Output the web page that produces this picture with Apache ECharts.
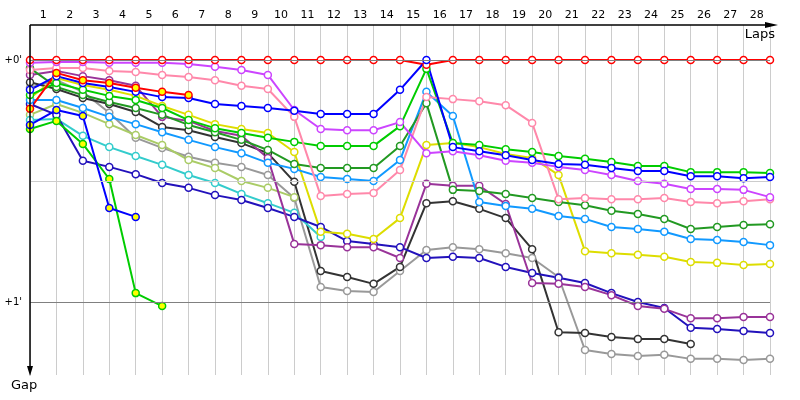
<!DOCTYPE html>
<html>
<head>
<meta charset="utf-8">
<script src="https://cdn.jsdelivr.net/npm/echarts@6/dist/echarts.min.js"></script>
<style>html,body{margin:0;padding:0;background:#fff}#c{width:800px;height:400px}</style>
</head>
<body>
<div id="c"></div>
<script>
// Laps (x positions of points) and tick labels
const laps = [0,1,2,3,4,5,6,7,8,9,10,11,12,13,14,15,16,17,18,19,20,21,22,23,24,25,26,27,28];
const tickLabels = ['1','2','3','4','5','6','7','8','9','10','11','12','13','14','15','16','17','18','19','20','21','22','23','24','25','26','27','28'];
// Gap lines (seconds behind leader)
const gapLines = [0, 30, 60];
const gapLabels = ["+0'", "", "+1'"];

// Series values: gap to leader in seconds, per lap (from lap 0)
const redLeader = [0,0,0,0,0,0,0,0,0,0,0,0,0,0,0,1.2,0,0,0,0,0,0,0,0,0,0,0,0,0];
const violet = [0.7,0.5,0.5,0.7,0.7,0.7,1.0,1.7,2.5,3.7,12.4,17.1,17.4,17.4,15.4,23.1,22.6,23.6,25.0,25.5,26.5,27.3,28.5,30.0,30.7,32.0,32.0,32.2,34.0];
const pink = [2.5,2.0,2.0,2.7,3.0,3.7,4.2,5.0,6.4,7.2,14.1,33.7,33.2,33.0,27.3,9.2,9.7,10.2,11.2,15.6,34.5,34.2,34.5,34.5,34.2,35.2,35.5,35.0,34.5];
const blue = [7.4,4.0,5.7,6.7,7.9,9.2,9.4,10.9,11.4,11.9,12.6,13.4,13.4,13.4,7.4,0,21.6,22.6,23.6,24.8,25.8,26.0,26.8,27.5,27.5,28.8,28.8,29.3,29.0];
const redOut = [12.1,3.2,5.0,5.7,6.9,7.9,8.7];
const blueOut = [16.1,12.4,13.9,36.7,38.9];
const greenOut = [17.1,15.1,20.8,29.5,57.8,61.0];
const navy = [10.9,13.6,25.0,26.5,28.3,30.5,31.7,33.5,34.7,36.7,38.9,41.4,44.9,45.6,46.4,49.1,48.8,49.1,51.3,52.8,54.0,55.3,57.8,60.0,61.5,66.4,66.7,67.2,67.7];
const cyan = [14.9,14.6,18.8,21.6,23.8,26.0,28.5,30.5,33.2,35.5,37.9,43.9];
const lightBlue = [9.9,9.9,11.9,14.1,15.9,17.9,19.8,21.6,23.1,25.5,27.0,29.0,29.5,30.0,24.8,7.9,13.9,35.2,36.2,36.9,38.7,39.4,41.4,41.9,42.6,44.4,44.6,45.1,45.9];
const green = [8.7,5.7,7.4,8.9,9.9,11.9,14.9,16.9,18.1,19.3,20.3,21.3,21.3,21.3,16.4,2.2,20.6,21.1,22.1,22.8,23.8,24.5,25.3,26.3,26.3,27.8,27.8,27.8,28.0];
const darkGreen = [2.0,6.7,8.7,10.4,11.9,13.6,16.1,17.9,19.8,22.3,25.8,26.8,26.8,26.8,21.3,10.7,32.2,32.5,33.2,34.2,35.2,36.0,37.4,38.2,39.4,41.9,41.4,40.9,40.7];
const yellow = [9.4,4.5,6.2,7.4,8.9,11.4,13.6,15.9,17.1,18.1,22.8,42.6,43.1,44.4,39.2,21.1,20.6,21.6,23.3,24.3,28.5,47.4,47.9,48.3,48.8,50.1,50.3,50.8,50.6];
const purple = [3.7,2.7,4.0,5.0,6.4,14.1,15.1,17.6,18.8,24.3,45.6,45.9,46.4,46.4,49.1,30.7,31.2,31.2,35.7,55.3,55.5,56.3,58.3,61.0,61.7,64.0,64.0,63.7,63.7];
const darkGray = [5.5,7.2,9.4,10.9,12.9,16.6,17.4,19.1,20.6,23.1,30.2,52.3,53.8,55.5,51.3,35.5,35.0,36.9,39.2,46.9,67.5,67.7,68.7,69.2,69.2,70.4];
const gray = [6.9,5.0,7.9,13.1,19.3,21.8,24.0,25.5,26.5,28.5,34.2,56.3,57.3,57.5,52.3,47.1,46.4,46.9,47.9,49.1,53.8,71.9,72.9,73.4,73.1,74.1,74.1,74.4,74.1];
const yellowGreen = [13.6,10.9,13.1,15.9,18.6,21.1,24.8,26.8,30.0,31.7,34.0];

function mk(name, color, values, fill) {
  return {
    name: name, type: 'line', xAxisIndex: 0, yAxisIndex: 0,
    data: values.map((v, i) => [laps[i], v]),
    symbol: 'circle', symbolSize: 7,
    itemStyle: { color: fill || '#ffffff', borderColor: color, borderWidth: 1.5 },
    lineStyle: { color: color, width: 2 },
    emphasis: { disabled: true }, silent: true
  };
}

const chart = echarts.init(document.getElementById('c'), null, { renderer: 'canvas' });

const series = [
  {
    type: 'line', data: [], silent: true, z: 1,
    markLine: {
      silent: true, symbol: 'none', animation: false,
      data: gapLines.map((g, i) => ({
        yAxis: g,
        lineStyle: { color: i === 1 ? '#cccccc' : '#808080', width: 1, type: 'solid' },
        label: { show: gapLabels[i] !== '', formatter: gapLabels[i], position: 'start', distance: 8, color: '#000', fontSize: 10, fontFamily: 'DejaVu Sans' }
      }))
    }
  },
  mk('gray', '#999999', gray),
  mk('darkGray', '#333333', darkGray),
  mk('yellowGreen', '#aacc66', yellowGreen),
  mk('cyan', '#33cccc', cyan),
  mk('navy', '#2211bb', navy),
  mk('purple', '#993399', purple),
  mk('yellow', '#dddd00', yellow),
  mk('lightBlue', '#1199ff', lightBlue),
  mk('darkGreen', '#229922', darkGreen),
  mk('green', '#00cc00', green),
  mk('pink', '#ff88aa', pink),
  mk('violet', '#cc44ff', violet),
  mk('redLeader', '#ff0000', redLeader),
  mk('blue', '#0000ff', blue),
  mk('greenOut', '#00cc00', greenOut, '#ffff00'),
  mk('blueOut', '#0000ff', blueOut, '#ffff00'),
  mk('redOut', '#ff0000', redOut, '#ffff00')
];

chart.setOption({
  animation: false,
  backgroundColor: '#ffffff',
  grid: { left: 30, right: 30, top: 25, bottom: 25 },
  xAxis: [
    {
      type: 'value', min: 0, max: 28, interval: 1, position: 'top',
      axisLine: { show: false }, axisTick: { show: false }, axisLabel: { show: false },
      splitLine: { show: true, lineStyle: { color: '#cccccc', width: 1 } }
    },
    {
      type: 'category', data: tickLabels, position: 'top', boundaryGap: true,
      axisLine: { show: false }, axisTick: { show: false },
      axisLabel: { color: '#000', fontSize: 11, fontFamily: 'DejaVu Sans', margin: 4 },
      splitLine: { show: false }
    }
  ],
  yAxis: {
    type: 'value', inverse: true, min: -8.678, max: 78.1,
    axisLine: { show: false }, axisTick: { show: false }, axisLabel: { show: false },
    splitLine: { show: false }
  },
  series: series,
  graphic: [
    { type: 'line', silent: true, z: 100, shape: { x1: 30, y1: 25, x2: 770, y2: 25 }, style: { stroke: '#000', lineWidth: 1.5 } },
    { type: 'polygon', silent: true, z: 100, shape: { points: [[765, 22], [778, 25], [765, 28]] }, style: { fill: '#000' } },
    { type: 'line', silent: true, z: 100, shape: { x1: 30, y1: 25, x2: 30, y2: 368 }, style: { stroke: '#000', lineWidth: 1.5 } },
    { type: 'polygon', silent: true, z: 100, shape: { points: [[27, 366], [30, 376], [33, 366]] }, style: { fill: '#000' } },
    { type: 'text', silent: true, z: 100, style: { text: 'Laps', x: 775, y: 35, align: 'right', verticalAlign: 'middle', fill: '#000', fontSize: 13, fontFamily: 'DejaVu Sans' } },
    { type: 'text', silent: true, z: 100, style: { text: 'Gap', x: 11, y: 386, align: 'left', verticalAlign: 'middle', fill: '#000', fontSize: 13, fontFamily: 'DejaVu Sans' } }
  ]
});
</script>
</body>
</html>
